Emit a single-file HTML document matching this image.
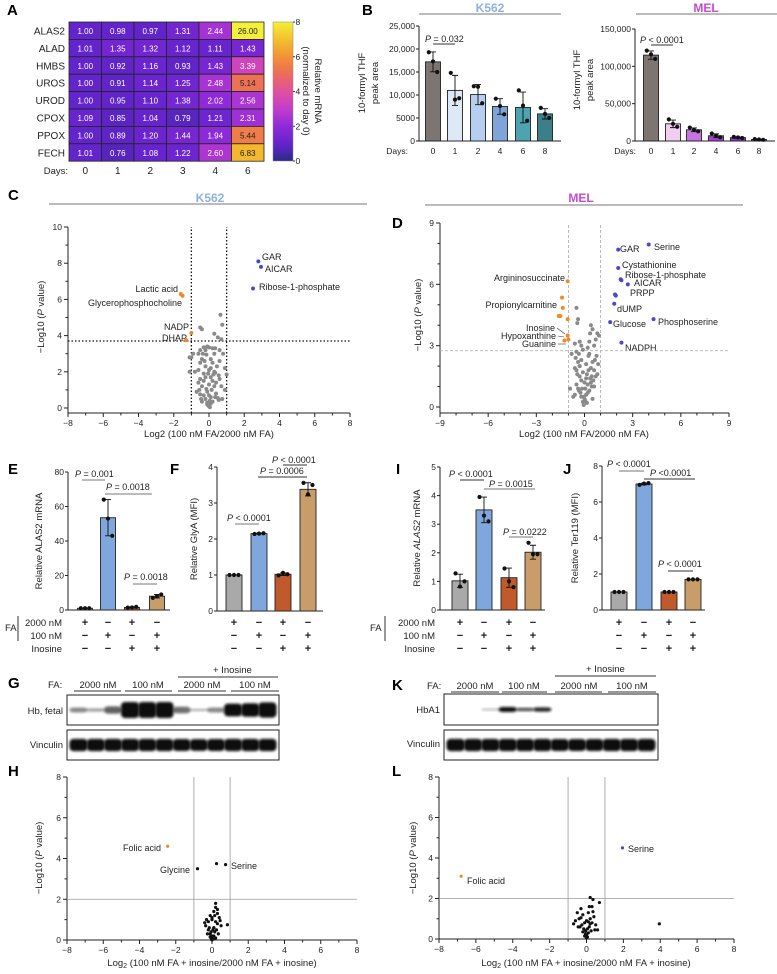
<!DOCTYPE html>
<html><head><meta charset="utf-8">
<style>
html,body{margin:0;padding:0;background:#fff;}
svg{display:block;font-family:"Liberation Sans",Arial,sans-serif;}
.pl{font-size:15px;font-weight:bold;}
.tk{font-size:8.5px;fill:#222;}
.lb{font-size:9.5px;fill:#222;}
.an{font-size:9px;fill:#222;}
</style></head>
<body>
<svg id="fig" width="777" height="974" viewBox="0 0 777 974" xmlns="http://www.w3.org/2000/svg">
<defs>
<linearGradient id="cbar" x1="0" y1="1" x2="0" y2="0">
<stop offset="0" stop-color="#2c2a8a"/><stop offset="0.125" stop-color="#6424cc"/><stop offset="0.25" stop-color="#8e2ad8"/><stop offset="0.375" stop-color="#c23ecc"/><stop offset="0.5" stop-color="#e0509e"/><stop offset="0.625" stop-color="#ec6c5a"/><stop offset="0.75" stop-color="#f29236"/><stop offset="0.875" stop-color="#f4c02c"/><stop offset="1" stop-color="#f2f038"/>
</linearGradient>
<filter id="blur" x="-20%" y="-50%" width="140%" height="200%"><feGaussianBlur stdDeviation="1.3"/></filter>
</defs>

<text class="pl" x="7" y="15">A</text>
<text class="pl" x="362" y="15">B</text>
<text class="pl" x="8" y="200">C</text>
<text class="pl" x="392" y="228">D</text>
<text class="pl" x="8" y="474">E</text>
<text class="pl" x="170" y="474">F</text>
<text class="pl" x="396" y="474">I</text>
<text class="pl" x="563" y="474">J</text>
<text class="pl" x="8" y="688">G</text>
<text class="pl" x="8" y="776">H</text>
<text class="pl" x="392" y="690">K</text>
<text class="pl" x="392" y="776">L</text>

<rect x="273" y="22" width="20" height="139" fill="url(#cbar)" stroke="#888" stroke-width="0.5"/>
<g>
<text class="lb" transform="translate(315,91) rotate(90)" text-anchor="middle">Relative mRNA</text>
<text class="lb" transform="translate(303,91) rotate(90)" text-anchor="middle">(normalized to day 0)</text>
</g>
<text class="lb" x="68" y="174" text-anchor="end">Days:</text>

<text x="490" y="12" text-anchor="middle" font-size="12" font-weight="bold" fill="#8db2e2">K562</text>
<line x1="419" y1="14" x2="561" y2="14" stroke="#777" stroke-width="1"/>
<text x="706" y="12" text-anchor="middle" font-size="12" font-weight="bold" fill="#c64ad6">MEL</text>
<line x1="636" y1="14" x2="777" y2="14" stroke="#777" stroke-width="1"/>
<g>
<text class="lb" transform="translate(365,83) rotate(-90)" text-anchor="middle">10-formyl THF</text>
<text class="lb" transform="translate(378,83) rotate(-90)" text-anchor="middle">peak  area</text>
</g>
<g>
<text class="lb" transform="translate(580,80) rotate(-90)" text-anchor="middle">10-formyl THF</text>
<text class="lb" transform="translate(593,80) rotate(-90)" text-anchor="middle">peak  area</text>
</g>
<text class="tk" x="408" y="154" text-anchor="end">Days:</text>
<text class="tk" x="636" y="154" text-anchor="end">Days:</text>
<text class="an" x="425" y="42"><tspan font-style="italic">P</tspan> = 0.032</text>
<line x1="433" y1="44" x2="455" y2="44" stroke="#333"/>
<text class="an" x="640" y="43"><tspan font-style="italic">P</tspan> &lt; 0.0001</text>
<line x1="651" y1="45" x2="673" y2="45" stroke="#333"/>

<text x="210" y="202" text-anchor="middle" font-size="12" font-weight="bold" fill="#8db2e2">K562</text>
<line x1="49" y1="204" x2="367" y2="204" stroke="#777"/>
<text x="581" y="202" text-anchor="middle" font-size="12" font-weight="bold" fill="#c64ad6">MEL</text>
<line x1="425" y1="205" x2="743" y2="205" stroke="#777"/>
<text class="lb" transform="translate(44,317) rotate(-90)" text-anchor="middle">−Log10 (<tspan font-style="italic">P</tspan> value)</text>
<text class="lb" x="209" y="437" text-anchor="middle">Log2 (100 nM FA/2000 nM FA)</text>
<text class="lb" transform="translate(421,315) rotate(-90)" text-anchor="middle">−Log10 (<tspan font-style="italic">P</tspan> value)</text>
<text class="lb" x="584" y="437" text-anchor="middle">Log2 (100 nM FA/2000 nM FA)</text>

<g class="an">
<text x="262" y="260">GAR</text>
<text x="265" y="272">AICAR</text>
<text x="259" y="290">Ribose-1-phosphate</text>
<text x="178" y="292" text-anchor="end">Lactic acid</text>
<text x="182" y="306" text-anchor="end">Glycerophosphocholine</text>
<text x="189" y="330" text-anchor="end">NADP</text>
<text x="187" y="341" text-anchor="end">DHAP</text>
</g>
<g class="an">
<text x="620" y="252">GAR</text>
<text x="654" y="250">Serine</text>
<text x="622" y="268">Cystathionine</text>
<text x="625" y="278">Ribose-1-phosphate</text>
<text x="634" y="286">AICAR</text>
<text x="630" y="296">PRPP</text>
<text x="617" y="312">dUMP</text>
<text x="613" y="327">Glucose</text>
<text x="658" y="325">Phosphoserine</text>
<text x="625" y="351">NADPH</text>
<text x="565" y="281" text-anchor="end">Argininosuccinate</text>
<text x="557" y="308" text-anchor="end">Propionylcarnitine</text>
<text x="555" y="331" text-anchor="end">Inosine</text>
<text x="556" y="339" text-anchor="end">Hypoxanthine</text>
<text x="556" y="347" text-anchor="end">Guanine</text>
<line x1="557" y1="328" x2="565" y2="334" stroke="#333" stroke-width="0.6"/>
<line x1="558" y1="336" x2="564" y2="337" stroke="#333" stroke-width="0.6"/>
<line x1="558" y1="344" x2="566" y2="344" stroke="#333" stroke-width="0.6"/>
</g>

<text class="lb" transform="translate(42,541) rotate(-90)" text-anchor="middle">Relative ALAS2 mRNA</text>
<text class="lb" transform="translate(197,539) rotate(-90)" text-anchor="middle">Relative GlyA (MFI)</text>
<text class="lb" transform="translate(420,538) rotate(-90)" text-anchor="middle">Relative <tspan font-style="italic">ALAS2</tspan> mRNA</text>
<text class="lb" transform="translate(578,538) rotate(-90)" text-anchor="middle">Relative Ter119 (MFI)</text>

<g class="lb">
<text x="5" y="631">FA</text><line x1="18" y1="616" x2="18" y2="641" stroke="#333"/>
<text x="62" y="626" text-anchor="end">2000 nM</text>
<text x="62" y="639" text-anchor="end">100 nM</text>
<text x="62" y="652" text-anchor="end">Inosine</text>
</g>
<g class="lb">
<text x="370" y="631">FA</text><line x1="385" y1="616" x2="385" y2="641" stroke="#333"/>
<text x="435" y="626" text-anchor="end">2000 nM</text>
<text x="435" y="639" text-anchor="end">100 nM</text>
<text x="435" y="652" text-anchor="end">Inosine</text>
</g>

<g class="an">
<text x="75" y="477"><tspan font-style="italic">P</tspan> = 0.001</text><line x1="82" y1="480" x2="105" y2="480" stroke="#777"/>
<text x="106" y="490"><tspan font-style="italic">P</tspan> = 0.0018</text><line x1="105" y1="494" x2="152" y2="494" stroke="#777"/>
<text x="124" y="580"><tspan font-style="italic">P</tspan> = 0.0018</text><line x1="133" y1="584" x2="157" y2="584" stroke="#777"/>
</g>
<g class="an">
<text x="272" y="463"><tspan font-style="italic">P</tspan> &lt; 0.0001</text><line x1="283" y1="465" x2="307" y2="465" stroke="#333"/>
<text x="260" y="474"><tspan font-style="italic">P</tspan> = 0.0006</text><line x1="258" y1="477" x2="307" y2="477" stroke="#333"/>
<text x="227" y="521"><tspan font-style="italic">P</tspan> &lt; 0.0001</text><line x1="235" y1="524" x2="259" y2="524" stroke="#777"/>
</g>
<g class="an">
<text x="449" y="477"><tspan font-style="italic">P</tspan> &lt; 0.0001</text><line x1="460" y1="480" x2="484" y2="480" stroke="#333"/>
<text x="489" y="487"><tspan font-style="italic">P</tspan> = 0.0015</text><line x1="484" y1="489" x2="535" y2="489" stroke="#777"/>
<text x="503" y="535"><tspan font-style="italic">P</tspan> = 0.0222</text><line x1="509" y1="537" x2="533" y2="537" stroke="#777"/>
</g>
<g class="an">
<text x="607" y="467"><tspan font-style="italic">P</tspan> &lt; 0.0001</text><line x1="619" y1="471" x2="644" y2="471" stroke="#777"/>
<text x="650" y="476"><tspan font-style="italic">P</tspan> &lt;0.0001</text><line x1="644" y1="479" x2="695" y2="479" stroke="#333"/>
<text x="658" y="567"><tspan font-style="italic">P</tspan> &lt; 0.0001</text><line x1="668" y1="571" x2="693" y2="571" stroke="#333"/>
</g>

<g class="lb">
<text x="213" y="673">+ Inosine</text><line x1="178" y1="677" x2="278" y2="677" stroke="#333"/>
<text x="48" y="688">FA:</text>
<text x="98" y="688" text-anchor="middle">2000 nM</text><line x1="74" y1="691" x2="121" y2="691" stroke="#333"/>
<text x="148" y="688" text-anchor="middle">100 nM</text><line x1="125" y1="691" x2="172" y2="691" stroke="#333"/>
<text x="202" y="688" text-anchor="middle">2000 nM</text><line x1="178" y1="691" x2="226" y2="691" stroke="#333"/>
<text x="255" y="688" text-anchor="middle">100 nM</text><line x1="231" y1="691" x2="279" y2="691" stroke="#333"/>
<text x="63" y="714" text-anchor="end">Hb, fetal</text>
<text x="63" y="748" text-anchor="end">Vinculin</text>
</g>
<g class="lb">
<text x="586" y="672">+ Inosine</text><line x1="555" y1="676" x2="656" y2="676" stroke="#333"/>
<text x="427" y="689">FA:</text>
<text x="475" y="689" text-anchor="middle">2000 nM</text><line x1="451" y1="692" x2="499" y2="692" stroke="#333"/>
<text x="524" y="689" text-anchor="middle">100 nM</text><line x1="502" y1="692" x2="547" y2="692" stroke="#333"/>
<text x="579" y="689" text-anchor="middle">2000 nM</text><line x1="555" y1="692" x2="602" y2="692" stroke="#333"/>
<text x="632" y="689" text-anchor="middle">100 nM</text><line x1="608" y1="692" x2="656" y2="692" stroke="#333"/>
<text x="440" y="713" text-anchor="end">HbA1</text>
<text x="440" y="747" text-anchor="end">Vinculin</text>
</g>

<text class="lb" transform="translate(42,858) rotate(-90)" text-anchor="middle">−Log10 (<tspan font-style="italic">P</tspan> value)</text>
<text class="lb" x="212" y="966" text-anchor="middle">Log<tspan font-size="7" dy="2">2</tspan><tspan dy="-2"> (100 nM FA + inosine/2000 nM FA + inosine)</tspan></text>
<text class="lb" transform="translate(416,858) rotate(-90)" text-anchor="middle">−Log10 (<tspan font-style="italic">P</tspan> value)</text>
<text class="lb" x="586" y="966" text-anchor="middle">Log<tspan font-size="7" dy="2">2</tspan><tspan dy="-2"> (100 nM FA + inosine/2000 nM FA + inosine)</tspan></text>
<g class="an">
<text x="161" y="851" text-anchor="end">Folic acid</text>
<text x="190" y="873" text-anchor="end">Glycine</text>
<text x="231" y="869">Serine</text>
</g>
<g class="an">
<text x="628" y="852">Serine</text>
<text x="467" y="884">Folic acid</text>
</g>
</svg>

<script>
const genes = ["ALAS2","ALAD","HMBS","UROS","UROD","CPOX","PPOX","FECH"];
const heatDays = ["0","1","2","3","4","6"];
const heatValues = [
 [1.00,0.98,0.97,1.31,2.44,26.00],
 [1.01,1.35,1.32,1.12,1.11,1.43],
 [1.00,0.92,1.16,0.93,1.43,3.39],
 [1.00,0.91,1.14,1.25,2.48,5.14],
 [1.00,0.95,1.10,1.38,2.02,2.56],
 [1.09,0.85,1.04,0.79,1.21,2.31],
 [1.00,0.89,1.20,1.44,1.94,5.44],
 [1.01,0.76,1.08,1.22,2.60,6.83]];
const cbarTicks = [0,2,4,6,8];

const bDays = ["0","1","2","4","6","8"];
const k562Means = [17200,11000,10100,7500,7300,5900];
const k562Dots = [[19300,17300,15000],[14800,9000,9300],[11900,11800,8200],[9200,7600,5800],[11000,7700,4400],[7200,5900,5000]];
const k562Ticks = [0,5000,10000,15000,20000,25000];
const k562TickLabels = ["0","5000","10,000","15,000","20,000","25,000"];
const melMeans = [115000,23000,15000,7000,4500,2000];
const melDots = [[121000,116000,110000],[29000,23000,19000],[18000,15000,13000],[10000,7000,5000],[5500,4800,4000],[2600,2000,1600]];
const melTicks = [0,50000,100000,150000];
const melTickLabels = ["0","50,000","100,000","150,000"];

const cGreyX = [0.65,0.75,-0.5,-0.4,0.3,0.5,0.7,-0.1,-0.3,0,0.2,0.35,-0.5,-0.2,0.6,-0.9,-0.6,0.3,0.8,-1.0,-1.1,-0.4,0.1,0.6,-0.5,0.2,-0.2,0.9,-0.6,0,0.3,0.35,-1.1,-0.3,0.55,1.0,-0.2,0.1,-0.5,-0.3,0.2,0.4,-0.6,0,-0.4,0.3,0.7,-0.55,0.15,-0.1,0.4,-0.5,-0.3,0.1,0.5,-0.2,0.05,-0.1,0.1,-0.05,0,0.05,-0.1,0.2,-0.4,-0.45,0.55,0.35,-0.15,-0.25,0.45,-0.35,0.1,-0.05,0.25,0.6,-0.7,0.0,-0.8,0.9,0.75,-0.15];
const cGreyY = [5.15,4.6,4.45,4.35,4.1,3.9,3.8,3.4,3.35,3.35,3.3,3.3,3.2,3.2,3.2,3.0,3.0,3.0,3.0,2.8,2.8,2.7,2.7,2.6,2.5,2.5,2.3,2.2,2.1,2.1,2.0,1.95,2.0,1.9,1.8,1.85,1.7,1.7,1.6,1.5,1.5,1.4,1.4,1.3,1.2,1.2,1.2,1.0,1.0,0.9,0.8,0.75,0.7,0.6,0.55,0.5,0.4,0.3,0.25,0.15,0.1,0.05,0.2,0.35,0.35,0.5,0.45,0.6,1.05,2.6,2.3,3.0,2.2,1.9,1.85,1.6,0.9,0.7,2.0,1.0,0.5,2.95];
const cOrangeX = [-1.6,-1.5,-1.0,-1.3];
const cOrangeY = [6.3,6.2,4.15,3.75];
const cBlueX = [2.8,2.95,2.5];
const cBlueY = [8.1,7.8,6.6];

const dGreyX = [-0.5,-0.4,-0.45,0.4,0.5,0.35,0.8,0.9,0.7,-0.3,-0.6,-0.2,0.6,0.2,-0.1,-0.5,-0.35,0.3,0.75,-0.8,-0.55,-0.2,0.5,-0.4,0.1,0.85,-0.3,-0.6,0.4,0.25,0.6,-0.1,-0.45,0.15,0.7,-0.3,0.35,-0.2,0.55,0.0,-0.5,0.2,0.45,-0.15,0.05,-0.35,0.3,-0.25,0.1,-0.05,0.0,0.05,-0.1,0.15,-0.2,0.2,-0.4,0.4,0.6,-0.6,-0.9,-0.7,0.65,0.3,-0.3,0.1,0.5,-0.5,0.25,0.8,-0.05,0.45];
const dGreyY = [4.85,4.3,4.1,4.0,3.8,3.6,3.6,3.5,3.3,3.2,3.1,3.0,3.0,2.9,2.8,2.7,2.6,2.6,2.5,2.6,2.4,2.3,2.2,2.2,2.1,2.1,2.0,1.9,1.9,1.8,1.8,1.7,1.6,1.6,1.5,1.5,1.4,1.3,1.3,1.2,1.1,1.1,1.0,0.9,0.9,0.8,0.8,0.7,0.6,0.5,0.4,0.3,0.25,0.2,0.5,0.7,0.9,1.2,1.0,0.6,0.9,0.5,2.3,3.2,2.0,1.4,0.4,1.8,2.5,1.6,0.1,1.5];
const dOrangeX = [-1.05,-1.4,-1.35,-1.6,-1.5,-1.05,-1.05,-1.0,-1.25];
const dOrangeY = [6.15,5.35,4.85,4.45,4.45,4.3,3.5,3.3,3.25];
const dBlueX = [2.1,4.0,2.1,2.3,2.25,2.7,1.9,1.95,1.85,1.6,4.3,2.3];
const dBlueY = [7.7,7.95,6.8,6.2,6.25,6.0,5.5,5.45,5.05,4.15,4.3,3.15];

const condRow1 = ["+","−","+","−"];
const condRow2 = ["−","+","−","+"];
const condRow3 = ["−","−","+","+"];
const eMeans = [1,53.5,1.5,8];
const eDots = [[1,1,1],[64,53,43],[1.4,1.5,1.8],[7,8,9]];
const fMeans = [1,2.15,1.02,3.38];
const fDots = [[1,1,1],[2.14,2.15,2.16],[0.99,1.06,1.02],[3.56,3.24,3.5]];
const iMeans = [1.02,3.5,1.13,2.02];
const iDots = [[1.28,0.82,1.0],[3.95,3.3,3.1],[1.45,1.0,0.8],[2.35,1.95,1.95]];
const jMeans = [1,7,1,1.7];
const jDots = [[1,1,1],[6.95,7.02,7.05],[1,1,1],[1.7,1.7,1.7]];
const eTicks = [0,20,40,60,80];
const fTicks = [0,1,2,3,4];
const iTicks = [0,1,2,3,4,5];
const jTicks = [0,2,4,6,8];

const gHbFetal = [0.3,0.2,0.45,1,1,1,0.4,0.12,0.3,0.8,0.85,0.95];
const gVinculin = [0.95,0.95,0.95,0.95,0.95,0.95,0.92,0.9,0.92,0.95,0.95,0.95];
const kHbA1 = [0,0,0.04,0.85,0.55,0.7,0,0,0,0,0,0];
const kVinculin = [0.95,0.95,0.95,0.95,0.95,0.95,0.92,0.92,0.92,0.95,0.95,0.95];

const hBlackX = [-0.8,0.25,0.75,0.2,0.3,0.1,-0.1,0.15,0.4,-0.3,0.0,0.2,-0.2,0.3,0.5,-0.35,0.1,-0.15,0.25,0.05,-0.05,0.15,-0.25,0.35,0.0,0.1,-0.1,0.2,0.05,-0.05,0.0,0.1,-0.2,0.3,0.85,0.45,-0.4,0.2,0.0,-0.1];
const hBlackY = [3.5,3.75,3.7,1.8,1.5,1.4,1.2,1.2,1.1,1.0,1.0,0.9,0.9,0.8,0.7,0.7,0.6,0.6,0.5,0.5,0.4,0.4,0.3,0.3,0.2,0.2,0.15,0.1,0.05,0.1,0.0,0.6,0.5,1.3,0.75,0.95,0.85,1.6,1.1,0.3];
const hOrangeX = [-2.45];
const hOrangeY = [4.6];
const lBlackX = [3.95,0.2,0.35,0.7,-0.3,0.3,-0.5,0.1,-0.2,0.4,-0.4,0.2,0.0,-0.6,0.3,-0.1,0.5,-0.25,0.15,-0.35,0.05,-0.15,0.25,-0.05,0.1,0.0,-0.1,0.45,-0.45,0.2,-0.2,0.0,0.05,-0.05,0.6,-0.7,0.15,0.35,-0.3,0.1];
const lBlackY = [0.75,2.05,1.95,1.8,1.5,1.6,1.3,1.3,1.2,1.1,1.0,1.0,0.9,0.9,0.8,0.8,0.7,0.7,0.6,0.6,0.5,0.5,0.4,0.4,0.3,0.2,0.15,0.45,0.6,0.75,0.35,0.05,0.1,0.25,0.45,0.75,1.6,1.35,1.05,0.85];
const lOrangeX = [-6.8];
const lOrangeY = [3.1];
const lBlueX = [1.95];
const lBlueY = [4.5];

const NS = "http://www.w3.org/2000/svg";
const svg = document.getElementById('fig');
function mk(tag, attrs, parent){
  const e = document.createElementNS(NS, tag);
  for (const k in attrs) e.setAttribute(k, attrs[k]);
  (parent || svg).appendChild(e);
  return e;
}
function grp(){ return mk('g', {}); }
function lin(a,b,c,d){ return (v)=> c + (v-a)*(d-c)/(b-a); }

const cmStops = ["#2c2a8a","#6424cc","#8e2ad8","#c23ecc","#e0509e","#ec6c5a","#f29236","#f4c02c","#f2f038"];
function hex(c){ return [parseInt(c.substr(1,2),16),parseInt(c.substr(3,2),16),parseInt(c.substr(5,2),16)]; }
function cmap(v){
  let t = Math.max(0, Math.min(8, v));
  const i = Math.min(7, Math.floor(t)); const f = t - i;
  const a = hex(cmStops[i]), b = hex(cmStops[i+1]);
  return 'rgb(' + a.map((x,k)=>Math.round(x+(b[k]-x)*f)).join(',') + ')';
}
(function(){
  const g = grp();
  
  
  const x0 = 69, y0 = 22, cw = 32.5, ch = 17.4;
  genes.forEach((gn, r) => {
    const lab = mk('text', {x: 65, y: y0 + r*ch + 12.5, 'text-anchor': 'end', 'font-size': 10, fill: '#222'}, g);
    lab.textContent = gn;
    
    
    heatValues[r].forEach((v, c) => {
      const cell = mk('rect', {x: x0 + c*cw, y: y0 + r*ch, width: cw, height: ch, fill: cmap(v), stroke: '#222', 'stroke-width': 0.8}, g);
      
      
      const t = mk('text', {x: x0 + c*cw + cw/2, y: y0 + r*ch + 12, 'text-anchor': 'middle', 'font-size': 8, fill: v > 4.5 ? '#222' : '#fff'}, g);
      t.textContent = v.toFixed(2);
      
      
    });
  });
  heatDays.forEach((d, c) => {
    const t = mk('text', {x: x0 + c*cw + cw/2, y: 174, 'text-anchor': 'middle', 'font-size': 10, fill: '#222'}, g);
    t.textContent = d;
    
    
  });
  const cy = lin(0, 8, 161, 22);
  cbarTicks.forEach(v => {
    const tl = mk('line', {x1: 293, x2: 295, y1: cy(v), y2: cy(v), stroke: '#333'}, g);
    
    
    const t = mk('text', {x: 295.5, y: cy(v) + 3, class: 'tk'}, g);
    t.textContent = v;
    
    
  });
})();

function sd(arr, m){ let s = 0; arr.forEach(v => s += (v-m)*(v-m)); return Math.sqrt(s/(arr.length-1)); }
function barPanel(o, means, dots, ticks, tickLabels, xLabels){
  const g = grp();
  
  
  const y = lin(0, o.ymax, o.zero, o.top);
  const ax = mk('line', {x1: o.ax, x2: o.ax, y1: o.zero, y2: o.top, stroke: '#222', 'stroke-width': 1}, g);
  
  
  const xa = mk('line', {x1: o.ax, x2: o.xend, y1: o.zero, y2: o.zero, stroke: '#222', 'stroke-width': 1}, g);
  
  
  ticks.forEach((v, i) => {
    const tl = mk('line', {x1: o.ax - 3, x2: o.ax, y1: y(v), y2: y(v), stroke: '#222'}, g);
    
    
    const t = mk('text', {x: o.ax - 4, y: y(v) + 3, 'text-anchor': 'end', class: 'tk'}, g);
    t.textContent = tickLabels ? tickLabels[i] : v;
    
    
  });
  means.forEach((m, i) => {
    const cx = o.cx[i];
    const b = mk('rect', {x: cx - o.w/2, y: y(m), width: o.w, height: o.zero - y(m), fill: o.colors[i], stroke: '#222', 'stroke-width': 0.9}, g);
    
    
    const s = sd(dots[i], m);
    if (s > 0) {
      const e1 = mk('path', {d: `M${cx},${y(m-s)}V${y(m+s)}M${cx-3},${y(m+s)}H${cx+3}M${cx-3},${y(m-s)}H${cx+3}`, stroke: '#111', 'stroke-width': 0.9, fill: 'none'}, g);
      
      
    }
    dots[i].forEach((d, k) => {
      const c = mk('circle', {cx: cx + (k-1)*o.w*0.28, cy: y(d), r: 2.1, fill: '#111'}, g);
      
      
    });
    if (xLabels) {
      const t = mk('text', {x: cx, y: o.zero + 13, 'text-anchor': 'middle', class: 'tk'}, g);
      t.textContent = xLabels[i];
      
      
    }
  });
  if (o.table) {
    [condRow1, condRow2, condRow3].forEach((row, r) => {
      row.forEach((s, i) => {
        const t = mk('text', {x: o.cx[i], y: 626 + r*13, 'text-anchor': 'middle', 'font-size': 11, 'font-weight': 'bold', fill: '#222'}, g);
        t.textContent = s;
        
        
      });
    });
  }
}
barPanel({name:'b-k562-chart', ax:419, xend:561, zero:141, top:26, ymax:25000, cx:[433,455,478,500,523,545], w:15,
  colors:['#7d7572','#dde9f7','#b6cff0','#7fa4d8','#4da3b0','#3b7f88']}, k562Means, k562Dots, k562Ticks, k562TickLabels, bDays);
barPanel({name:'b-mel-chart', ax:635, xend:775, zero:141, top:29, ymax:150000, cx:[651,673,694,716,738,759], w:15,
  colors:['#7d7572','#f2cdf2','#c774e2','#a444d4','#9434c8','#8424b4']}, melMeans, melDots, melTicks, melTickLabels, bDays);
const barCols = ['#a9a9a9','#80a7dd','#c0592b','#c89d6a'];
barPanel({name:'e-chart', ax:68, xend:170, zero:610, top:472, ymax:80, cx:[85,108,132,157], w:15, colors:barCols, table:true}, eMeans, eDots, eTicks);
barPanel({name:'f-chart', ax:217, xend:323, zero:611, top:467, ymax:4, cx:[234,259,283,308], w:16, colors:barCols, table:true}, fMeans, fDots, fTicks);
barPanel({name:'i-chart', ax:440, xend:545, zero:610, top:467, ymax:5, cx:[460,484,509,533], w:16, colors:barCols, table:true}, iMeans, iDots, iTicks);
barPanel({name:'j-chart', ax:602, xend:705, zero:610, top:466, ymax:8, cx:[619,644,669,693], w:16, colors:barCols, table:true}, jMeans, jDots, jTicks);

function volcano(o, series){
  const g = grp();
  
  
  const X = lin(o.xmin, o.xmax, o.xl, o.xr);
  const Y = lin(0, o.ymax, o.yb, o.yt);
  const ya = mk('line', {x1: o.xl, x2: o.xl, y1: o.yb + o.off, y2: o.yt, stroke: '#222'}, g);
  
  
  const xa = mk('line', {x1: o.xl, x2: o.xr, y1: o.yb + o.off, y2: o.yb + o.off, stroke: '#222'}, g);
  
  
  for (let v = o.xmin; v <= o.xmax + 1e-9; v += o.xminor) {
    const major = Math.abs((v - o.xmin) % o.xstep) < 1e-9;
    const tl = mk('line', {x1: X(v), x2: X(v), y1: o.yb + o.off, y2: o.yb + o.off + (major ? 4 : 2.5), stroke: '#222'}, g);
    
    
    if (major) {
      const t = mk('text', {x: X(v), y: o.yb + o.off + 13, 'text-anchor': 'middle', class: 'tk'}, g);
      t.textContent = v < 0 ? '−' + Math.abs(v) : v;
      
      
    }
  }
  for (let v = 0; v <= o.ymax + 1e-9; v += o.yminor) {
    const major = Math.abs(v % o.ystep) < 1e-9;
    const tl = mk('line', {x1: o.xl - (major ? 4 : 2.5), x2: o.xl, y1: Y(v), y2: Y(v), stroke: '#222'}, g);
    
    
    if (major) {
      const t = mk('text', {x: o.xl - 6, y: Y(v) + 3, 'text-anchor': 'end', class: 'tk'}, g);
      t.textContent = v;
      
      
    }
  }
  o.vlines.forEach(v => {
    const l = mk('line', {x1: X(v), x2: X(v), y1: o.yb + o.off, y2: o.yt, stroke: o.lc, 'stroke-width': o.lw, 'stroke-dasharray': o.dash}, g);
    
    
  });
  const hl = mk('line', {x1: o.xl, x2: o.xr, y1: Y(o.hline), y2: Y(o.hline), stroke: o.lc, 'stroke-width': o.lw, 'stroke-dasharray': o.dash}, g);
  
  
  series.forEach(s => {
    s.xs.forEach((xv, i) => {
      const c = mk('circle', {cx: X(xv), cy: Y(s.ys[i]), r: s.r, fill: s.color}, g);
      
      
    });
  });
}
volcano({name:'c-volcano', xl:68, xr:350, xmin:-8, xmax:8, xstep:2, xminor:1, yb:408, yt:227, ymax:10, ystep:2, yminor:1, off:5,
  vlines:[-1,1], hline:3.7, lc:'#111', lw:1.3, dash:'1.5,2'},
  [{xs:cGreyX, ys:cGreyY, color:'#8a8a8a', r:2, label:'metabolite-point'},
   {xs:cOrangeX, ys:cOrangeY, color:'#f08a24', r:2, label:'decreased-metabolite-point'},
   {xs:cBlueX, ys:cBlueY, color:'#4a4ac8', r:2, label:'increased-metabolite-point'}]);
volcano({name:'d-volcano', xl:440, xr:729, xmin:-9, xmax:9, xstep:3, xminor:1, yb:407, yt:223, ymax:9, ystep:3, yminor:1, off:6,
  vlines:[-1,1], hline:2.75, lc:'#aaa', lw:0.8, dash:'3,2'},
  [{xs:dGreyX, ys:dGreyY, color:'#8a8a8a', r:2, label:'metabolite-point'},
   {xs:dOrangeX, ys:dOrangeY, color:'#f08a24', r:2, label:'decreased-metabolite-point'},
   {xs:dBlueX, ys:dBlueY, color:'#4a4ac8', r:2, label:'increased-metabolite-point'}]);
volcano({name:'h-volcano', xl:67, xr:357, xmin:-8, xmax:8, xstep:2, xminor:1, yb:940, yt:777, ymax:8, ystep:2, yminor:1, off:0,
  vlines:[-1,1], hline:2, lc:'#999', lw:0.8, dash:'none'},
  [{xs:hBlackX, ys:hBlackY, color:'#111', r:1.6, label:'metabolite-point'},
   {xs:hOrangeX, ys:hOrangeY, color:'#f08a24', r:1.6, label:'decreased-metabolite-point'}]);
volcano({name:'l-volcano', xl:439, xr:734, xmin:-8, xmax:8, xstep:2, xminor:1, yb:939, yt:777, ymax:8, ystep:2, yminor:1, off:0,
  vlines:[-1,1], hline:2, lc:'#999', lw:0.8, dash:'none'},
  [{xs:lBlackX, ys:lBlackY, color:'#111', r:1.6, label:'metabolite-point'},
   {xs:lOrangeX, ys:lOrangeY, color:'#f08a24', r:1.6, label:'decreased-metabolite-point'},
   {xs:lBlueX, ys:lBlueY, color:'#4a4ac8', r:1.6, label:'increased-metabolite-point'}]);

function blot(name, x0, x1, y0, h, bands, maxH){
  const g = grp();
  
  
  const box = mk('rect', {x: x0, y: y0, width: x1 - x0, height: h, fill: '#fff', stroke: '#222', 'stroke-width': 1}, g);
  
  
  const lw = (x1 - x0 - 6) / bands.length;
  bands.forEach((v, i) => {
    if (v <= 0) return;
    const e = mk('rect', {x: x0 + 3 + lw*i - 0.5, y: y0 + h/2 - Math.max(1.2, maxH*v), width: lw + 1, height: 2*Math.max(1.2, maxH*v), rx: 4, fill: '#111', opacity: Math.min(1, 0.2 + v), filter: 'url(#blur)'}, g);
    
    
  });
}
blot('g-hb-fetal-blot', 67, 279, 695, 30, gHbFetal, 8);
blot('g-vinculin-blot', 67, 279, 730, 30, gVinculin, 6.5);
blot('k-hba1-blot', 444, 658, 694, 31, kHbA1, 3);
blot('k-vinculin-blot', 444, 658, 730, 30, kVinculin, 6.5);
</script>
</body></html>
